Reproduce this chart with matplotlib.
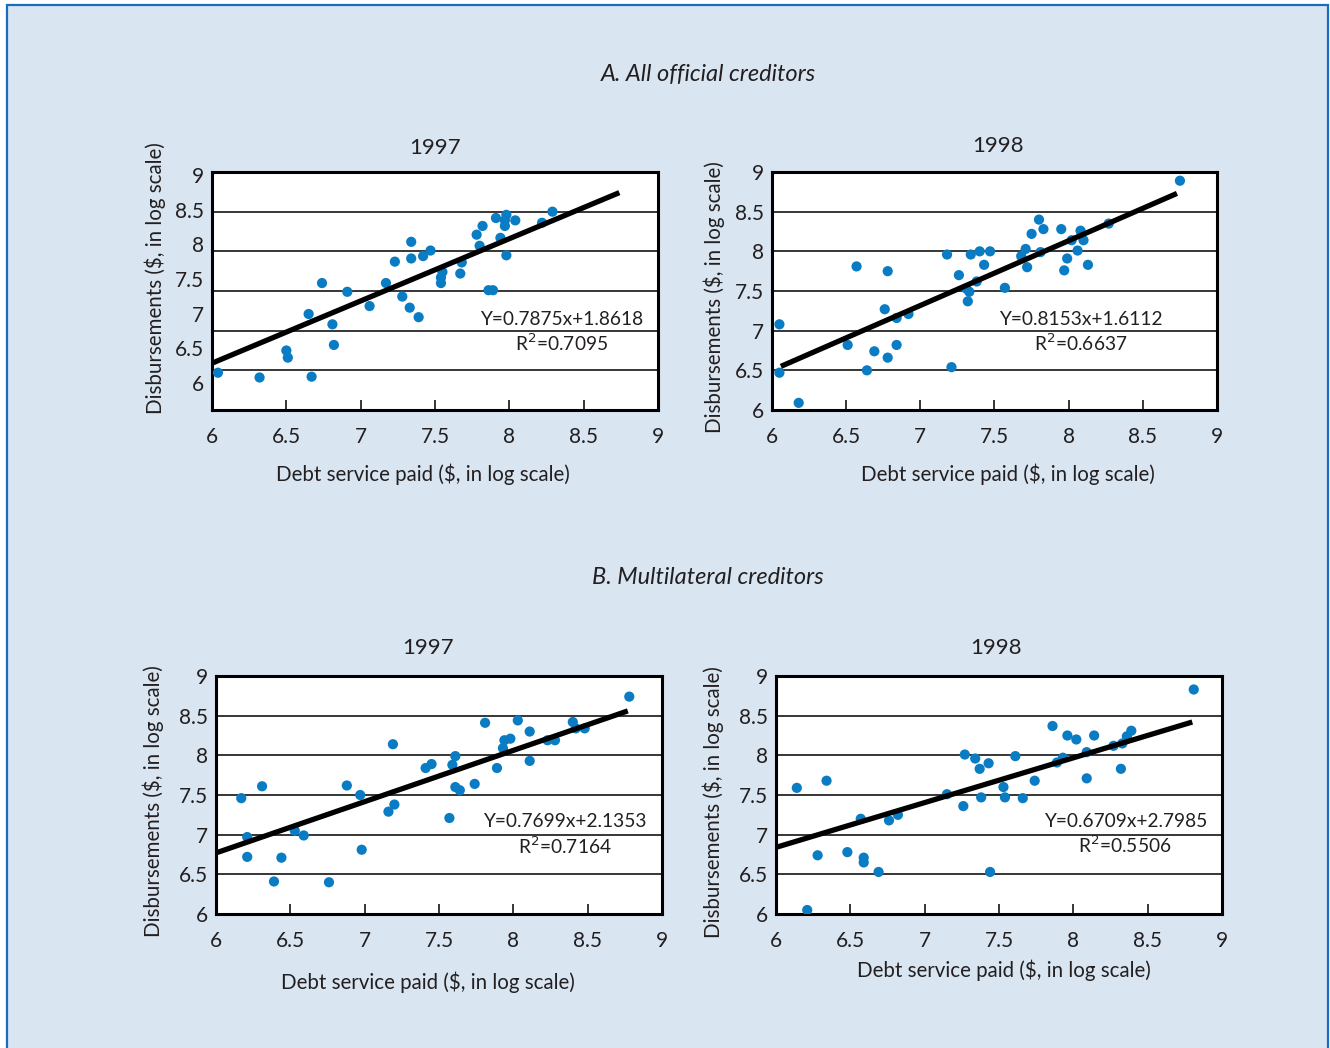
import matplotlib
matplotlib.use("Agg")
import matplotlib.pyplot as plt
from matplotlib.patches import Rectangle

plt.rcParams['font.family'] = ['Lato', 'DejaVu Sans']

# ---- data ----
a97_x = [6.04, 6.32, 6.50, 6.51, 6.65, 6.67, 6.74, 6.81, 6.82, 6.91, 7.06, 7.17, 7.23,
         7.28, 7.33, 7.34, 7.34, 7.39, 7.42, 7.47, 7.55, 7.54, 7.54, 7.67, 7.68, 7.78,
         7.80, 7.82, 7.86, 7.89, 7.91, 7.94, 7.98, 7.97, 7.97, 7.98, 8.04, 8.22, 8.29]
a97_y = [6.47, 6.41, 6.75, 6.66, 7.21, 6.42, 7.60, 7.08, 6.82, 7.49, 7.31, 7.60, 7.87,
         7.43, 7.29, 8.12, 7.91, 7.17, 7.94, 8.01, 7.74, 7.67, 7.60, 7.72, 7.86, 8.21,
         8.07, 8.32, 7.51, 7.51, 8.42, 8.17, 8.46, 8.39, 8.32, 7.95, 8.39, 8.36, 8.50]

a98_x = [6.05, 6.05, 6.18, 6.51, 6.57, 6.64, 6.69, 6.76, 6.78, 6.78, 6.84, 6.84, 6.92,
         7.18, 7.21, 7.26, 7.31, 7.32, 7.33, 7.34, 7.38, 7.40, 7.43, 7.47, 7.57, 7.68,
         7.71, 7.72, 7.75, 7.80, 7.81, 7.83, 7.95, 7.97, 7.99, 8.02, 8.06, 8.08, 8.10,
         8.13, 8.27, 8.75]
a98_y = [7.08, 6.47, 6.09, 6.82, 7.81, 6.50, 6.74, 7.27, 7.75, 6.66, 7.16, 6.82, 7.21,
         7.96, 6.54, 7.70, 7.53, 7.37, 7.49, 7.96, 7.62, 8.00, 7.83, 8.00, 7.54, 7.94,
         8.03, 7.80, 8.22, 8.40, 7.99, 8.28, 8.28, 7.76, 7.91, 8.14, 8.01, 8.26, 8.14,
         7.83, 8.35, 8.89]

b97_x = [6.17, 6.21, 6.21, 6.31, 6.39, 6.44, 6.53, 6.59, 6.76, 6.88, 6.97, 6.98, 7.16,
         7.19, 7.20, 7.41, 7.45, 7.57, 7.59, 7.61, 7.61, 7.64, 7.74, 7.81, 7.89, 7.93,
         7.94, 7.98, 8.03, 8.11, 8.11, 8.23, 8.28, 8.40, 8.42, 8.48, 8.78]
b97_y = [7.46, 6.97, 6.72, 7.61, 6.41, 6.71, 7.05, 6.99, 6.40, 7.62, 7.50, 6.81, 7.29,
         8.14, 7.38, 7.84, 7.89, 7.21, 7.88, 7.99, 7.60, 7.56, 7.64, 8.41, 7.84, 8.09,
         8.19, 8.21, 8.44, 8.30, 7.93, 8.19, 8.19, 8.42, 8.34, 8.34, 8.74]

b98_x = [6.14, 6.21, 6.28, 6.34, 6.48, 6.57, 6.59, 6.59, 6.69, 6.76, 6.82, 7.15, 7.26,
         7.27, 7.34, 7.37, 7.38, 7.43, 7.44, 7.53, 7.54, 7.61, 7.66, 7.74, 7.86, 7.89,
         7.93, 7.96, 8.02, 8.09, 8.09, 8.14, 8.27, 8.32, 8.33, 8.36, 8.39, 8.81]
b98_y = [7.59, 6.05, 6.74, 7.68, 6.78, 7.20, 6.71, 6.65, 6.53, 7.18, 7.25, 7.51, 7.36,
         8.01, 7.96, 7.83, 7.47, 7.90, 6.53, 7.60, 7.47, 7.99, 7.46, 7.68, 8.37, 7.91,
         7.97, 8.25, 8.20, 8.04, 7.71, 8.25, 8.12, 7.83, 8.15, 8.24, 8.31, 8.83]

# fitted lines as drawn (start / end)
a97_fit_x, a97_fit_y = [6.00, 8.74], [6.59, 8.74]
a98_fit_x, a98_fit_y = [6.06, 8.73], [6.55, 8.73]
b97_fit_x, b97_fit_y = [6.00, 8.77], [6.77, 8.56]
b98_fit_x, b98_fit_y = [6.00, 8.80], [6.84, 8.42]

a97_eq = "Y=0.7875x+1.8618\nR$^2$=0.7095"
a98_eq = "Y=0.8153x+1.6112\nR$^2$=0.6637"
b97_eq = "Y=0.7699x+2.1353\nR$^2$=0.7164"
b98_eq = "Y=0.6709x+2.7985\nR$^2$=0.5506"

x_ticks = [6, 6.5, 7, 7.5, 8, 8.5, 9]
x_ticklabels = ["6", "6.5", "7", "7.5", "8", "8.5", "9"]
y_ticklabels = ["6", "6.5", "7", "7.5", "8", "8.5", "9"]
grid_vals = [6.5, 7, 7.5, 8, 8.5]
# panel A 1997 prints its y labels off the grid
a97_ylabel_pos = [6.34, 6.78, 7.21, 7.65, 8.09, 8.52, 8.96]

dot_color = '#0a7cc4'
bg = '#d9e5f1'
txt = '#231f20'

fig = plt.figure(figsize=[13.3, 10.48], dpi=100)
fig.patch.set_facecolor('white')
fig.add_artist(Rectangle((6.5 / 1330, -0.05), (1328 - 6.5) / 1330, 1.05 - 4.5 / 1048,
                         transform=fig.transFigure, facecolor=bg, edgecolor='#1a6cbf',
                         linewidth=1.6, zorder=-10))

panels = [
    ([212 / 1330, 1 - 410 / 1048, 446 / 1330, 238 / 1048], a97_x, a97_y, a97_fit_x, a97_fit_y,
     a97_eq, "1997", 0.500, 1.101, (-0.128, 0.555), (0.473, -0.269), a97_ylabel_pos, (0.783, 0.324)),
    ([772 / 1330, 1 - 410 / 1048, 445 / 1330, 238 / 1048], a98_x, a98_y, a98_fit_x, a98_fit_y,
     a98_eq, "1998", 0.508, 1.109, (-0.130, 0.475), (0.530, -0.269), x_ticks, (0.694, 0.326)),
    ([216 / 1330, 1 - 914 / 1048, 446 / 1330, 238 / 1048], b97_x, b97_y, b97_fit_x, b97_fit_y,
     b97_eq, "1997", 0.475, 1.118, (-0.141, 0.475), (0.475, -0.286), x_ticks, (0.783, 0.332)),
    ([776 / 1330, 1 - 914 / 1048, 446 / 1330, 238 / 1048], b98_x, b98_y, b98_fit_x, b98_fit_y,
     b98_eq, "1998", 0.493, 1.118, (-0.141, 0.470), (0.510, -0.235), x_ticks, (0.783, 0.334)),
]

for rect, xs, ys, fx, fy, eq, year, tx, ty, ylc, xlc, ypos, eqpos in panels:
    ax = fig.add_axes(rect)
    ax.set_facecolor('white')
    ax.set_xlim(6, 9)
    ax.set_ylim(6, 9)
    for g in grid_vals:
        ax.axhline(g, color='black', linewidth=1.1, zorder=1)
    ax.scatter(xs, ys, s=54, color=dot_color, edgecolors='none', zorder=3)
    ax.plot(fx, fy, color='black', linewidth=3.8, solid_capstyle='butt', zorder=4)
    ax.text(eqpos[0], eqpos[1], eq, transform=ax.transAxes, ha='center', va='center',
            multialignment='center', fontsize=13.8, color=txt, linespacing=1.25, zorder=5)
    for s in ax.spines.values():
        s.set_linewidth(2.2)
        s.set_color('black')
    ax.set_xticks(x_ticks)
    ax.set_xticklabels(x_ticklabels)
    ax.set_yticks(ypos)
    ax.set_yticklabels(y_ticklabels)
    ax.tick_params(axis='x', direction='in', length=7, width=1.1, pad=12,
                   labelsize=15, labelcolor=txt)
    ax.tick_params(axis='y', length=0, pad=6, labelsize=15, labelcolor=txt)
    ax.xaxis.get_major_ticks()[0].tick1line.set_visible(False)
    ax.xaxis.get_major_ticks()[-1].tick1line.set_visible(False)
    ax.set_xlabel("Debt service paid ($, in log scale)", fontsize=14.8, color=txt, va='center')
    ax.set_ylabel("Disbursements ($, in log scale)", fontsize=14.8, color=txt, va='center')
    ax.xaxis.set_label_coords(*xlc)
    ax.yaxis.set_label_coords(*ylc)
    ax.text(tx, ty, year, transform=ax.transAxes, ha='center', va='center',
            fontsize=16, color=txt)

fig.text(708 / 1330, 1 - 75 / 1048, "A. All official creditors", ha='center', va='center',
         fontsize=17, style='italic', color=txt)
fig.text(708 / 1330, 1 - 577 / 1048, "B. Multilateral creditors", ha='center', va='center',
         fontsize=17, style='italic', color=txt)

plt.savefig('out.png', dpi=100, facecolor=fig.get_facecolor())
